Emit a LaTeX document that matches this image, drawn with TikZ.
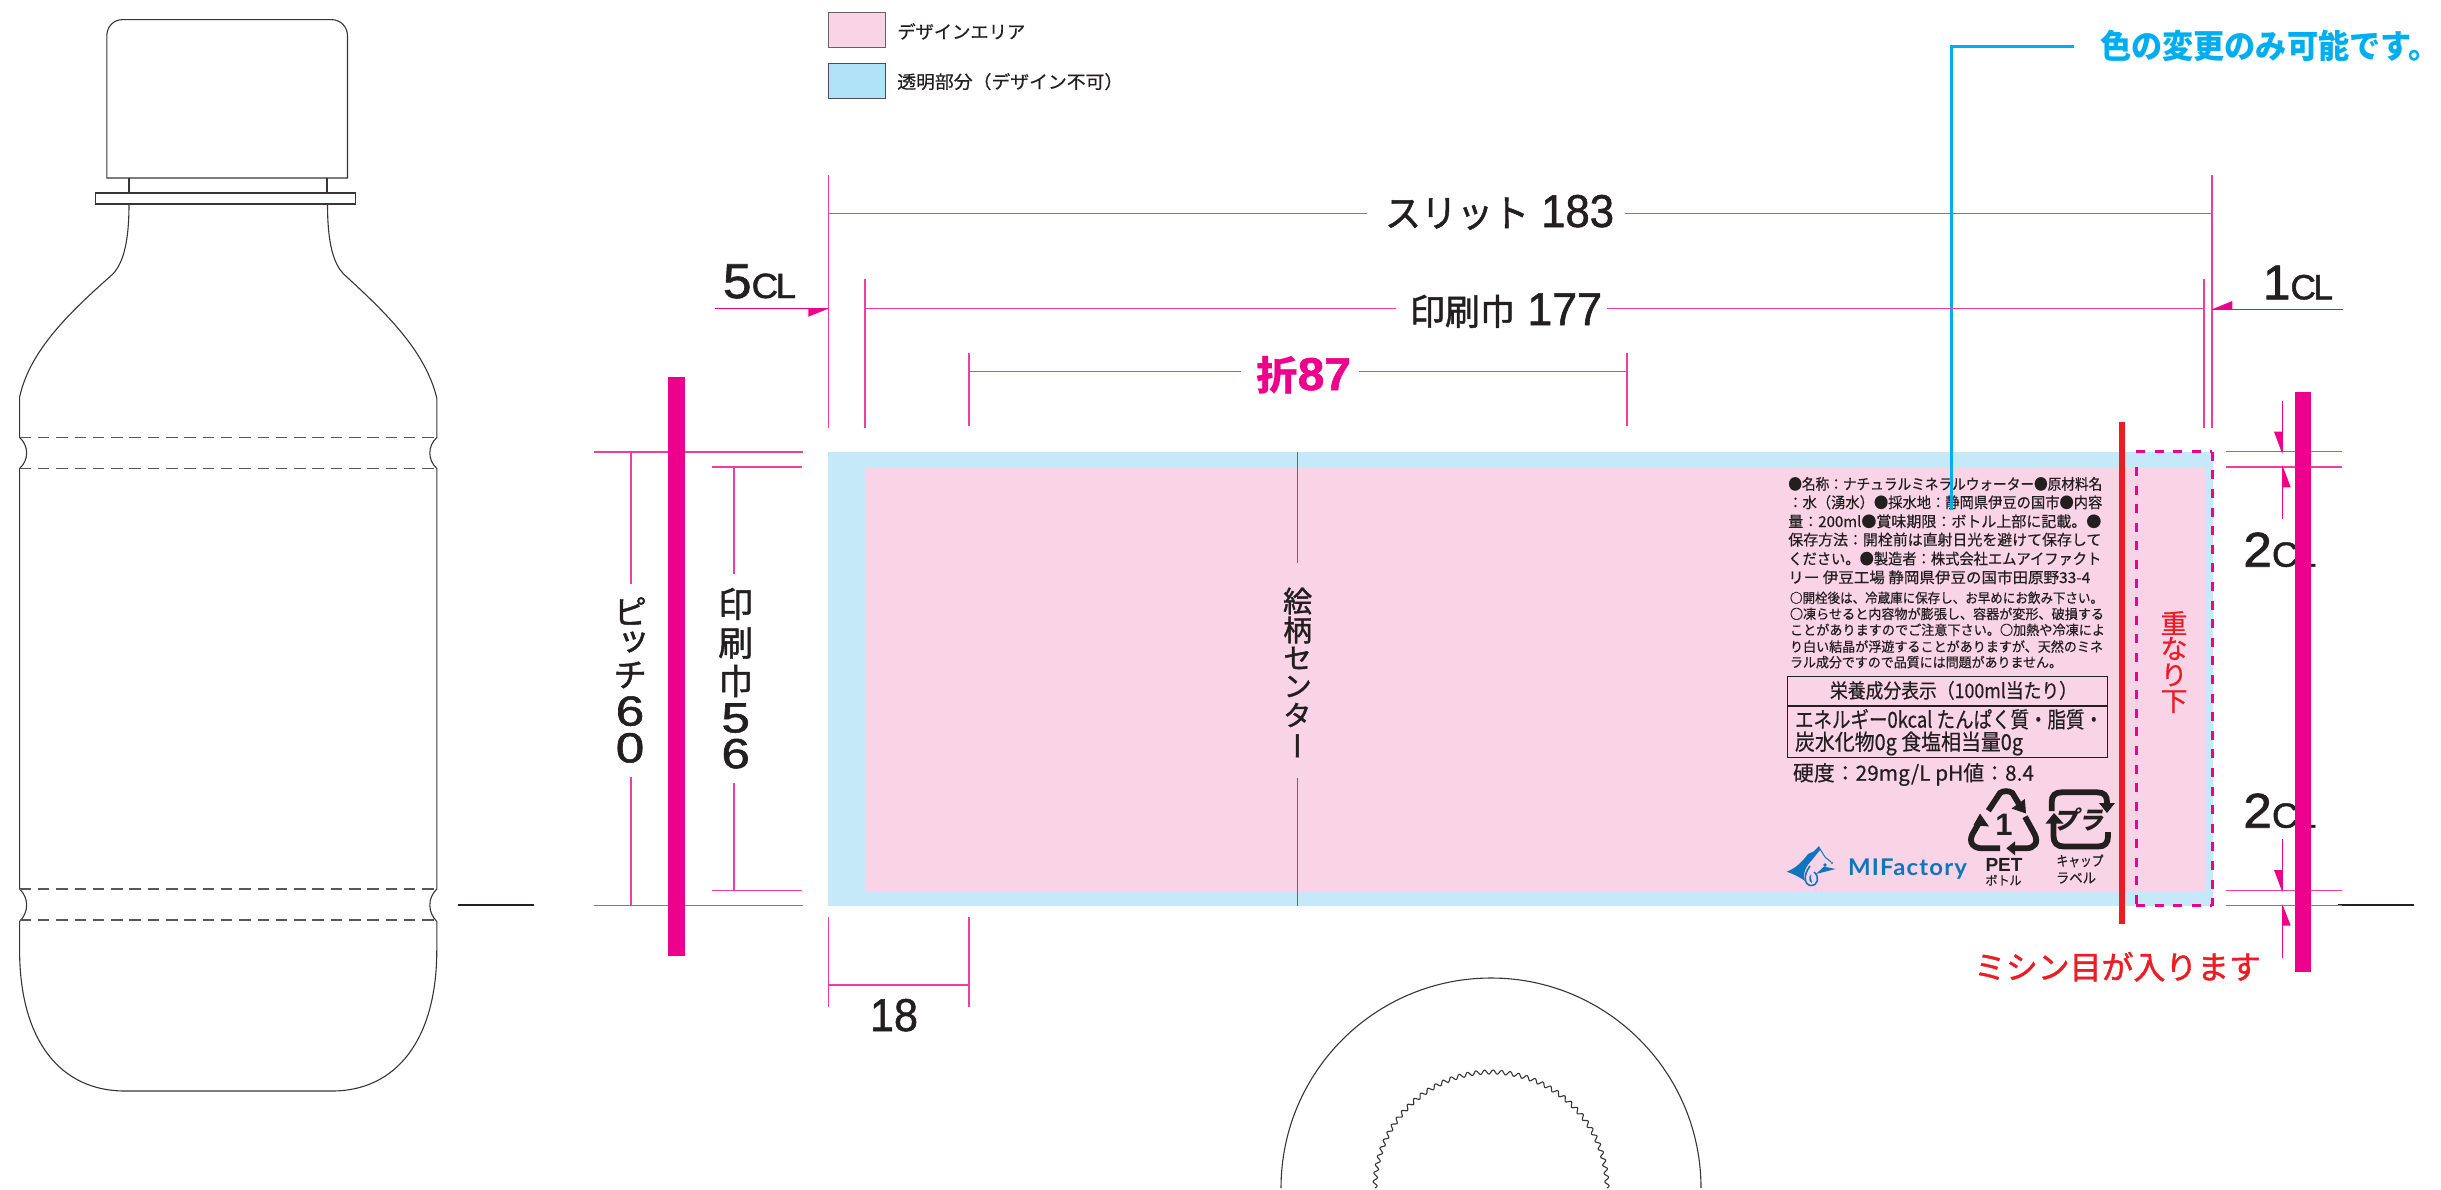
\documentclass[tikz,border=0pt]{standalone}
\usepackage{graphicx}
\usepackage{fontspec}
\setmainfont{Liberation Sans}
\newfontfamily\jpplain{Noto Sans CJK JP}
\newfontfamily\jp[FakeBold=0.5]{Noto Sans CJK JP}
\newfontfamily\jpm[FakeBold=1.3]{Noto Sans CJK JP}
\newfontfamily\jpv[RawFeature=+vert,FakeBold=1.3]{Noto Sans CJK JP}
\newfontfamily\hv{Liberation Sans}
\newfontfamily\hvm[FakeBold=1.3]{Liberation Sans}
\newfontfamily\lato{Lato}
\newcommand{\fsz}[1]{\fontsize{#1}{#1}\selectfont}
\definecolor{mag}{HTML}{EC008C}
\definecolor{dimc}{HTML}{F03DA0}
\definecolor{bluebg}{HTML}{C5E9F9}
\definecolor{pinkbg}{HTML}{F9D3E6}
\definecolor{cyanc}{HTML}{00AEEF}
\definecolor{redc}{HTML}{ED1C24}
\definecolor{ink}{HTML}{231F20}
\definecolor{logoc}{HTML}{0F75BC}
\definecolor{centre}{HTML}{B5406E}
\tikzset{
  txt/.style={inner sep=0pt,outer sep=0pt,text=ink},
  dimline/.style={draw=dimc,line width=1.5pt},
  tri/.style={fill=mag,draw=none},
  bottle/.style={draw=ink!90,line width=1.1pt},
  bdash/.style={draw=ink!75,line width=1.1pt,dash pattern=on 11.5pt off 6.8pt},
  bar/.style={fill=mag,draw=none},
  recy/.style={draw=ink,line width=5.8pt},
  recyh/.style={fill=ink,draw=none},
  perf/.style={draw=mag,line width=3pt,dash pattern=on 9pt off 9.6pt},
}
% name, x, baseline y, width, font, text
\newcommand{\fitlabel}[6]{\node[txt,anchor=base west] (#1) at (#2,#3) {\resizebox{#4pt}{\height}{#5#6}};}
\newcommand{\stk}[5]{\node[txt] (#1) at (#2,#3) {#4#5};}
\newcommand{\wdig}[1]{\scalebox{1.22}[1]{\hvm\fsz{42}#1}}
\begin{document}
\begin{tikzpicture}[x=1pt,y=-1pt]
\useasboundingbox (0,0) rectangle (2441,1189);
\fill[white] (0,0) rectangle (2441,1189);
% bottle
\draw[bottle] (106.8,178) -- (106.8,36) .. controls (106.8,27) and (113,19.6) .. (123,19.6) -- (331,19.6) .. controls (341,19.6) and (347.5,27) .. (347.5,36) -- (347.5,178) -- cycle;
\draw[bottle] (129,178) -- (129,193) (327,178) -- (327,193);
\draw[bottle] (95.7,193) rectangle (355.4,204);
\draw[bottle] (129,204) .. controls (129,240) and (124,262) .. (112.9,274)
  .. controls (70,312) and (30,350) .. (19.6,397) -- (19.6,437.5)
  .. controls (29,446) and (29,460) .. (19.6,468.5) -- (19.6,889)
  .. controls (29,898) and (29,912) .. (19.6,921.5) -- (19.6,950)
  .. controls (19.6,1040) and (60,1091) .. (125,1091) -- (332,1091)
  .. controls (396,1091) and (436.8,1040) .. (436.8,950) -- (436.8,921.5)
  .. controls (427.5,912) and (427.5,898) .. (436.8,889) -- (436.8,468.5)
  .. controls (427.5,460) and (427.5,446) .. (436.8,437.5) -- (436.8,398)
  .. controls (425,350) and (385,312) .. (343.6,274)
  .. controls (334,264) and (327.5,245) .. (327.5,204);
\draw[bdash] (19.6,437.5) -- (436.8,437.5);
\draw[bdash] (19.6,468.5) -- (436.8,468.5);
\draw[bdash] (19.6,889) -- (436.8,889);
\draw[bdash] (19.6,920) -- (436.8,920);
\draw[ink,line width=1.6pt] (458,905) -- (534,905);
\draw[ink,line width=1.6pt] (2338,905) -- (2414,905);
% reel circles
\draw[bottle] (1281,1188) arc[start angle=180,end angle=0,radius=210pt];
\draw[bottle] plot[domain=0:180,samples=800,variable=\t] ({1491+(116+2*sin(86*\t))*cos(\t)},{1188-(116+2*sin(86*\t))*sin(\t)});
% legend
\draw[fill=pinkbg,draw=ink!70,line width=1pt] (828.3,12.3) rectangle (885.7,47.7);
\draw[fill=bluebg!90!cyanc,draw=ink!80,line width=1pt] (828.3,63.3) rectangle (885.7,98.3);
\fitlabel{lg1}{897.3}{38.5}{128}{\jp\fsz{18}}{デザインエリア}
\fitlabel{lg2}{897.3}{88.5}{226}{\jp\fsz{18}}{透明部分（デザイン不可）}
% label panel
\fill[bluebg] (828,452) rectangle (2212.5,906);
\fill[pinkbg] (865,467) rectangle (2205,890.5);
% centre line
\draw[draw=centre,line width=1.7pt] (1297.6,452) -- (1297.6,563) (1297.6,778) -- (1297.6,906);
\stk{c1}{1297.6}{601}{\jpv\fsz{29}}{絵}
\stk{c2}{1297.6}{630}{\jpv\fsz{29}}{柄}
\stk{c3}{1297.6}{658}{\jpv\fsz{29}}{セ}
\stk{c4}{1297.6}{686.5}{\jpv\fsz{29}}{ン}
\stk{c5}{1297.6}{715}{\jpv\fsz{29}}{タ}
\stk{c6}{1297.6}{745.7}{\jpv\fsz{29}}{ー}
% text block 1
\fitlabel{a1}{1788.3}{489.6}{314}{\jp\fsz{15}}{●名称：ナチュラルミネラルウォーター●原材料名}
\fitlabel{a2}{1788.3}{508}{314}{\jp\fsz{15}}{：水（湧水）●採水地：静岡県伊豆の国市●内容}
\fitlabel{a3}{1788.3}{527}{313}{\jp\fsz{15}}{量：200ml●賞味期限：ボトル上部に記載。●}
\fitlabel{a4}{1788.3}{545.3}{313}{\jp\fsz{15}}{保存方法：開栓前は直射日光を避けて保存して}
\fitlabel{a5}{1788.3}{564.3}{313}{\jp\fsz{15}}{ください。●製造者：株式会社エムアイファクト}
\fitlabel{a6}{1788.3}{583}{302}{\jp\fsz{15}}{リー 伊豆工場 静岡県伊豆の国市田原野33-4}
% text block 2
\fitlabel{b1}{1790}{603}{313}{\jp\fsz{13.5}}{○開栓後は、冷蔵庫に保存し、お早めにお飲み下さい。}
\fitlabel{b2}{1790}{619}{314}{\jp\fsz{13.5}}{○凍らせると内容物が膨張し、容器が変形、破損する}
\fitlabel{b3}{1790}{635}{315}{\jp\fsz{13.5}}{ことがありますのでご注意下さい。○加熱や冷凍によ}
\fitlabel{b4}{1790}{651.7}{313}{\jp\fsz{13.5}}{り白い結晶が浮遊することがありますが、天然のミネ}
\fitlabel{b5}{1790}{667.3}{272}{\jp\fsz{13.5}}{ラル成分ですので品質には問題がありません。}
% nutrition box
\draw[ink,line width=1.2pt] (1787.3,676.7) rectangle (2107.7,757.3);
\draw[ink,line width=1.2pt] (1787.3,706) -- (2107.7,706);
\fitlabel{n0}{1830}{698}{247}{\jp\fsz{20}}{栄養成分表示（100ml当たり）}
\fitlabel{n1}{1795}{727.7}{308}{\jp\fsz{22}}{エネルギー0kcal たんぱく質・脂質・}
\fitlabel{n2}{1795}{750}{228}{\jp\fsz{22}}{炭水化物0g 食塩相当量0g}
\fitlabel{n3}{1793}{780.7}{241}{\jp\fsz{21}}{硬度：29mg/L  pH値：8.4}
% PET symbol
\draw[recy] (1988.3,810.7) -- (2000,793) .. controls (2003,790.5) and (2009,790.5) .. (2012.3,793) -- (2019,804);
\fill[recyh] (2026,813.5) -- (2011.5,808.5) -- (2024.8,799) -- cycle;
\draw[recy] (1980,821) -- (1972.5,834) .. controls (1968,843) and (1974,848.3) .. (1982,848.3) -- (2000,848.3);
\fill[recyh] (1980,813.5) -- (1973.5,825) -- (1989,826.5) -- cycle;
\draw[recy] (2025,816.7) -- (2034.5,834) .. controls (2039,843) and (2034,848.3) .. (2026,848.3) -- (2012,848.3);
\fill[recyh] (2006.3,848.3) -- (2015,841.3) -- (2015,855.3) -- cycle;
\node[txt,font=\hv\bfseries\fsz{31}] (pet1) at (2004,825) {1};
\fitlabel{pet2}{1985.5}{871.5}{37}{\hv\bfseries\fsz{19}}{PET}
\fitlabel{pet3}{1985.5}{885}{36}{\jp\fsz{12.5}}{ボトル}
% plastic symbol
\draw[recy] (2051.7,811) -- (2051.7,802) .. controls (2051.7,795.5) and (2055,792.3) .. (2062,792.3) -- (2097,792.3) .. controls (2104,792.3) and (2107,795.5) .. (2107,802) -- (2107,805);
\fill[recyh] (2107,813) -- (2099,803) -- (2115,803) -- cycle;
\draw[recy] (2053.5,822) -- (2053.5,836) .. controls (2053.5,843) and (2057,846.5) .. (2064,846.5) -- (2098,846.5) .. controls (2105,846.5) and (2108,843) .. (2108,836) -- (2108,832);
\fill[recyh] (2054,813) -- (2045.5,823.5) -- (2063.5,823.5) -- cycle;
\node[txt,font=\jpplain\bfseries\fsz{25},xslant=.22,transform shape] (pla) at (2081,820) {プラ};
\fitlabel{pla1}{2056.5}{866}{47}{\jp\fsz{14}}{キャップ}
\fitlabel{pla2}{2056}{883}{40}{\jp\fsz{14}}{ラベル}
% logo
\fill[logoc] (1786.7,871.7) .. controls (1796,868) and (1802,862) .. (1808,854) -- (1813.5,851.5) -- (1818.5,846.5) -- (1820,850) -- (1812,860) .. controls (1806,866) and (1802,874) .. (1805,881) .. controls (1798,876) and (1793,874) .. (1786.7,871.7) -- cycle;
\draw[logoc,line width=1pt] (1818.5,846.5) -- (1825,857) -- (1831,862);
\fill[logoc] (1816,874) -- (1835.5,869) -- (1824,866.5) -- cycle;
\fill[logoc] (1825,865) circle[radius=1.8pt] (1832,863) circle[radius=1.2pt];
\draw[logoc,line width=1.6pt] (1810,866) .. controls (1803,875) and (1804,885) .. (1811,885.5) .. controls (1818,885.5) and (1820,877) .. (1814,872);
\fill[logoc] (1811,874) .. controls (1808,878) and (1809,882) .. (1812,883) .. controls (1811,880) and (1811,877) .. (1811,874) -- cycle;
\fitlabel{mif}{1848}{875.5}{119}{\lato\bfseries\addfontfeature{LetterSpace=5}\fsz{23}\color{logoc}}{MIFactory}
% dashed overlap zone and perforation
\draw[perf] (2136,451.7) -- (2212,451.7);
\draw[perf] (2212,451.7) -- (2212,905.7);
\draw[perf] (2136,905.7) -- (2212,905.7);
\draw[perf] (2136,467) -- (2136,905.7);
\draw[draw=redc,line width=5.6pt] (2122,422) -- (2122,924);
\stk{r1}{2174}{623}{\jp\fsz{27}\color{redc}}{重}
\stk{r2}{2174}{648.5}{\jp\fsz{27}\color{redc}}{な}
\stk{r3}{2174}{675}{\jp\fsz{27}\color{redc}}{り}
\stk{r4}{2174}{701.7}{\jp\fsz{27}\color{redc}}{下}
\fitlabel{mis}{1974}{979}{287}{\jpm\fsz{32}\color{redc}}{ミシン目が入ります}
% cyan callout
\draw[draw=cyanc,line width=2.6pt] (2074,46.7) -- (1951.7,46.7) -- (1951.7,510);
\fitlabel{iro}{2100}{58}{340}{\jpplain\bfseries\fsz{33}\color{cyanc}}{色の変更のみ可能です。}
% top dimensions
\draw[dimline] (828.3,175) -- (828.3,427.7);
\draw[dimline] (865,279) -- (865,427.7);
\draw[dimline] (969,352.7) -- (969,425.7);
\draw[dimline] (1627,352.7) -- (1627,425.7);
\draw[dimline] (2212,175) -- (2212,427.7);
\draw[dimline] (2204,279) -- (2204,427.7);
\draw[dimline] (828.3,213.3) -- (1367,213.3) (1625,213.3) -- (2212,213.3);
\draw[dimline] (865,308.7) -- (1396,308.7) (1607,308.7) -- (2204,308.7);
\draw[dimline] (969,371.7) -- (1241,371.7) (1359,371.7) -- (1627,371.7);
\fitlabel{d183}{1385}{227}{229}{\jpm\fsz{38}}{スリット{\hvm\fsz{46} 183}}
\fitlabel{d177}{1410}{325}{192}{\jpm\fsz{36}}{印刷巾{\hvm\fsz{46} 177}}
\fitlabel{d87}{1256}{390}{95}{\jpplain\bfseries\fsz{40}\color{mag}}{折{\hvm\fsz{46}87}}
% CL labels
\draw[draw=mag,line width=1.4pt] (715,308.7) -- (828,308.7);
\fill[tri] (828.3,308.7) -- (808.3,308.7) -- (808.3,316.7) -- cycle;
\fitlabel{cl5}{723}{298}{73}{\hvm\fsz{49}}{5{\fsz{35}\addfontfeature{LetterSpace=-7}CL}}
\draw[draw=mag,line width=1.4pt] (2212,309.3) -- (2342.7,309.3);
\fill[tri] (2212,309.3) -- (2232.3,309.3) -- (2232.3,301) -- cycle;
\fitlabel{cl1}{2263}{299.3}{70}{\hvm\fsz{49}}{1{\fsz{35}\addfontfeature{LetterSpace=-7}CL}}
% 18
\draw[dimline] (828.3,917) -- (828.3,1007);
\draw[dimline] (969,917) -- (969,1007);
\draw[dimline] (828.3,985) -- (969,985);
\fitlabel{d18}{870}{1031}{48}{\hvm\fsz{46}}{18}
% left dimensions
\draw[dimline] (594,451.8) -- (803,451.8) (594,905.4) -- (803,905.4);
\draw[dimline] (712,466.8) -- (802,466.8) (712,890.4) -- (802,890.4);
\draw[dimline] (631,451.8) -- (631,584) (631,777) -- (631,905.4);
\draw[dimline] (734,466.8) -- (734,573.6) (734,783) -- (734,890.4);
\fill[bar] (668,376.5) rectangle (685,956);
\stk{p1}{630}{611}{\jpv\fsz{34}}{ピ}
\stk{p2}{630}{643}{\jpv\fsz{34}}{ッ}
\stk{p3}{630}{675}{\jpv\fsz{34}}{チ}
\stk{p4}{630}{729.5}{}{\shortstack{\wdig{6}\\[4pt]\wdig{0}}}
\stk{q1}{735.7}{604}{\jpv\fsz{35}}{印}
\stk{q2}{735.7}{643}{\jpv\fsz{35}}{刷}
\stk{q3}{735.7}{681}{\jpv\fsz{35}}{巾}
\stk{q4}{735.7}{736}{}{\shortstack{\wdig{5}\\[3pt]\wdig{6}}}
% right margin
\draw[dimline] (2225.7,451.7) -- (2341.7,451.7) (2225.7,467) -- (2341.7,467);
\draw[dimline] (2225.7,890.3) -- (2341.7,890.3) (2225.7,905.7) -- (2341.7,905.7);
\draw[draw=mag,line width=1.4pt] (2282.3,400.7) -- (2282.3,451.7) (2282.3,467) -- (2282.3,519);
\draw[draw=mag,line width=1.4pt] (2282.3,839.3) -- (2282.3,890.3) (2282.3,905.7) -- (2282.3,957.7);
\fill[tri] (2282.3,454) -- (2282.3,431.7) -- (2274,431.7) -- cycle;
\fill[tri] (2282.3,465) -- (2282.3,487.3) -- (2290.7,487.3) -- cycle;
\fill[tri] (2282.3,892) -- (2282.3,870) -- (2274,870) -- cycle;
\fill[tri] (2282.3,904) -- (2282.3,925.7) -- (2290.7,925.7) -- cycle;
\fitlabel{cl2a}{2243.3}{566.7}{73}{\hvm\fsz{49}}{2{\fsz{35}\addfontfeature{LetterSpace=-7}CL}}
\fitlabel{cl2b}{2243.3}{827.7}{73}{\hvm\fsz{49}}{2{\fsz{35}\addfontfeature{LetterSpace=-7}CL}}
\fill[bar] (2294.7,392) rectangle (2311,971.7);
\end{tikzpicture}
\end{document}
